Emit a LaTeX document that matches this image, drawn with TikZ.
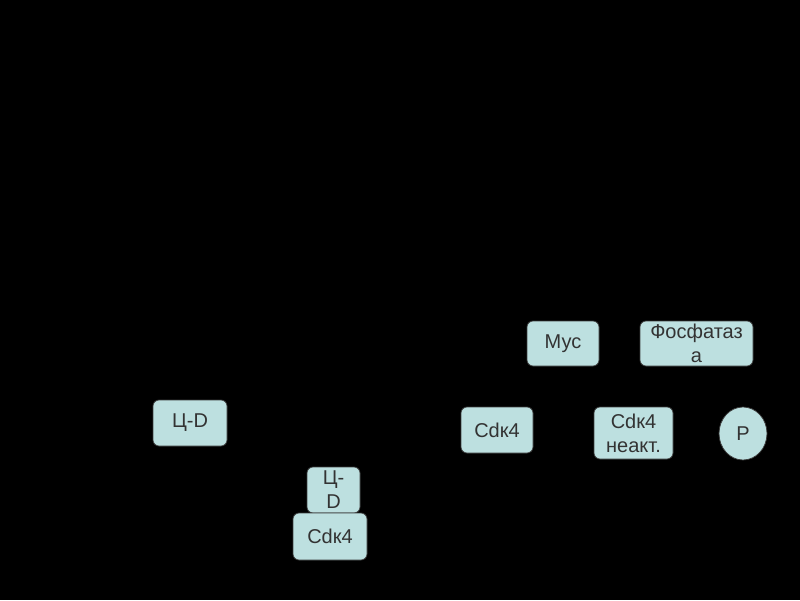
\documentclass[tikz,border=0pt]{standalone}
\usepackage{fontspec}
\setmainfont{Liberation Sans}
\usetikzlibrary{shapes.geometric}

\definecolor{boxfill}{RGB}{189,224,224}
\definecolor{boxline}{RGB}{60,60,60}
\definecolor{boxtext}{RGB}{51,51,51}

\tikzset{every picture/.style={line width=0.75pt}}
\tikzset{
  cellbox/.style={draw=boxline, fill=boxfill, text=boxtext, rounded corners=6pt,
    inner sep=0pt, align=center, font=\fontsize{20}{24}\selectfont},
  phosbox/.style={draw=boxline, fill=boxfill, text=boxtext, ellipse,
    inner sep=0pt, font=\fontsize{20}{24}\selectfont}
}

\begin{document}
\begin{tikzpicture}[x=1pt,y=1pt,yscale=-1,xscale=1]
		%Shape: Background
		\fill [black] (0,0) rectangle (800,600) ;
		\useasboundingbox (0,0) rectangle (800,600) ;

		%Shape: Rounded Rect [Myc]
		\node (myc) at (563,343.5) [cellbox, minimum width=72pt, minimum height=45pt] {Мус};
		%Shape: Rounded Rect [phosphatase]
		\node (phosph) at (696.5,343.5) [cellbox, minimum width=113pt, minimum height=45pt] {Фосфатаз\\а};
		%Shape: Rounded Rect [Cdk4 right]
		\node (cdkfree) at (497,430) [cellbox, minimum width=72pt, minimum height=46pt] {Cdк4};
		%Shape: Rounded Rect [Cdk4 inactive]
		\node (cdkoff) at (633.5,433) [cellbox, minimum width=79pt, minimum height=52pt] {Cdк4\\неакт.};
		%Shape: Ellipse [P]
		\node (phos) at (743,433.5) [phosbox, minimum width=48pt, minimum height=53pt] {P};
		%Shape: Rounded Rect [cyclin D]
		\node (cycd) at (190,423) [cellbox, minimum width=74pt, minimum height=46pt] {Ц-D};
		%Shape: Rounded Rect [cyclin D bound]
		\node (cycdb) at (333.5,490) [cellbox, minimum width=53pt, minimum height=46pt] {Ц-\\D};
		%Shape: Rounded Rect [Cdk4 bound]
		\node (cdkb) at (330,536.5) [cellbox, minimum width=74pt, minimum height=47pt] {Cdк4};
	\end{tikzpicture}
\end{document}
